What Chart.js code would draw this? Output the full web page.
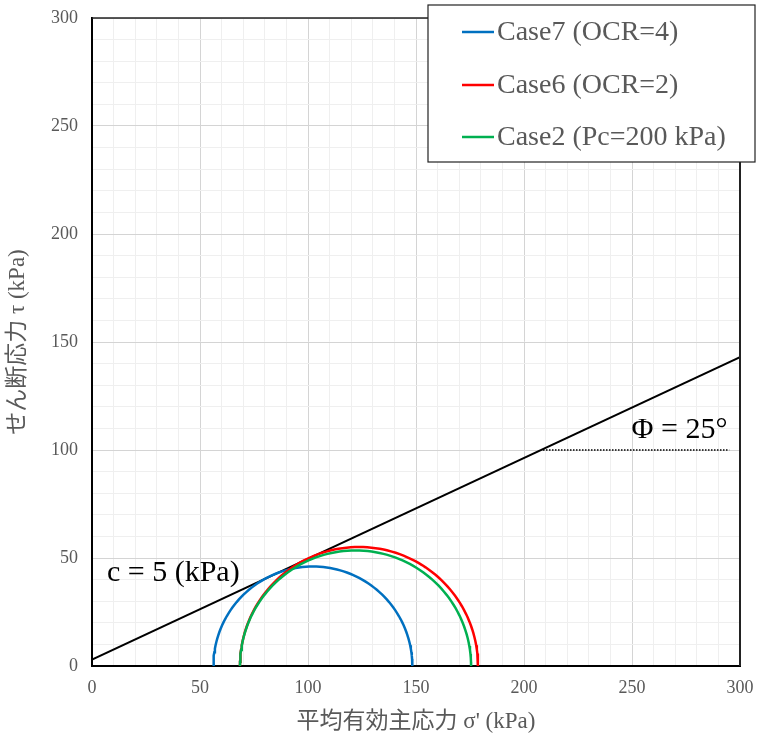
<!DOCTYPE html>
<html>
<head>
<meta charset="utf-8">
<script src="https://cdn.jsdelivr.net/npm/chart.js@4"></script>
<style>
  body { margin: 0; background: #fff; }
  #wrap { width: 757px; height: 740px; }
</style>
</head>
<body>
<div id="wrap"><canvas id="chart"></canvas></div>
<script>
// Mohr circles (kPa)
const caseNames = ['Case7 (OCR=4)', 'Case6 (OCR=2)', 'Case2 (Pc=200 kPa)'];
const sigma3 = [56.2, 68.5, 68.5];
const sigma1 = [148.3, 178.7, 175.5];
const caseColors = ['#0070C0', '#FF0000', '#00B050'];

// failure envelope and the dotted reference line
const envX = [0, 300];
const envY = [3, 143];
const refX = [208.8, 295];
const refY = [100, 100];

const serif = '"Liberation Serif", "Times New Roman", serif';
const jpFont = '"Liberation Serif", "Noto Sans CJK JP", serif';
const gray = '#595959';

function mohr(s3, s1) {
  const c = (s1 + s3) / 2, r = (s1 - s3) / 2;
  const pts = [];
  for (let a = 180; a >= 0; a -= 2) {
    const t = a * Math.PI / 180;
    pts.push({ x: c + r * Math.cos(t), y: r * Math.sin(t) });
  }
  return pts;
}

const datasets = [];
// draw order: green, red, blue on top like the reference
[2, 1, 0].forEach(i => {
  datasets.push({
    label: caseNames[i],
    data: mohr(sigma3[i], sigma1[i]),
    borderColor: caseColors[i],
    borderWidth: 2.5,
    showLine: true,
    pointRadius: 0,
    tension: 0
  });
});
datasets.push({
  label: 'envelope',
  data: envX.map((x, i) => ({ x: x, y: envY[i] })),
  borderColor: '#000',
  borderWidth: 2,
  showLine: true,
  pointRadius: 0
});
datasets.push({
  label: 'ref',
  data: refX.map((x, i) => ({ x: x, y: refY[i] })),
  borderColor: '#000',
  borderWidth: 1.5,
  borderDash: [1.5, 1.5],
  showLine: true,
  pointRadius: 0
});

const gridColor = ctx => (ctx.tick && ctx.tick.value % 50 === 0) ? '#d4d4d4' : '#efefef';

const extras = {
  id: 'extras',
  afterDraw(chart) {
    const ctx = chart.ctx;
    const a = chart.chartArea;
    const xs = chart.scales.x, ys = chart.scales.y;
    ctx.save();
    // top and right frame
    ctx.strokeStyle = '#222';
    ctx.lineWidth = 1.5;
    ctx.beginPath();
    ctx.moveTo(a.left, a.top);
    ctx.lineTo(a.right, a.top);
    ctx.stroke();
    ctx.lineWidth = 2;
    ctx.beginPath();
    ctx.moveTo(a.right, a.top);
    ctx.lineTo(a.right, a.bottom);
    ctx.stroke();

    // annotations
    ctx.fillStyle = '#000';
    ctx.textBaseline = 'alphabetic';
    ctx.textAlign = 'left';
    ctx.font = '30px ' + serif;
    ctx.fillText('c = 5 (kPa)', xs.getPixelForValue(6.9), ys.getPixelForValue(39.5));
    ctx.fillText('Φ = 25°', xs.getPixelForValue(249.8), ys.getPixelForValue(105.7));

    // legend box
    const bx = 428, by = 5, bw = 327, bh = 157;
    ctx.fillStyle = '#fff';
    ctx.fillRect(bx, by, bw, bh);
    ctx.strokeStyle = '#222';
    ctx.lineWidth = 1.2;
    ctx.strokeRect(bx, by, bw, bh);
    const rows = [32, 85, 137];
    ctx.font = '28px ' + serif;
    ctx.textBaseline = 'middle';
    caseNames.forEach((n, i) => {
      ctx.strokeStyle = caseColors[i];
      ctx.lineWidth = 2.5;
      ctx.beginPath();
      ctx.moveTo(462, rows[i]);
      ctx.lineTo(494, rows[i]);
      ctx.stroke();
      ctx.fillStyle = gray;
      ctx.fillText(n, 497, rows[i] + 1);
    });
    ctx.restore();
  }
};

new Chart(document.getElementById('chart'), {
  type: 'scatter',
  data: { datasets: datasets },
  options: {
    responsive: true,
    maintainAspectRatio: false,
    animation: false,
    layout: { padding: { top: 18, right: 17, left: 0, bottom: 0 } },
    plugins: { legend: { display: false }, tooltip: { enabled: false } },
    scales: {
      x: {
        type: 'linear',
        min: 0, max: 300,
        afterFit: s => { s.height = 74; s.paddingLeft = 0; s.paddingRight = 0; },
        ticks: {
          stepSize: 10, autoSkip: false, maxRotation: 0, padding: 11,
          color: gray, font: { family: serif, size: 18 },
          callback: v => (v % 50 === 0 ? v : '')
        },
        grid: { color: gridColor, drawTicks: false, lineWidth: 1 },
        border: { color: '#000', width: 2 },
        title: {
          display: true, text: "平均有効主応力 σ' (kPa)",
          color: gray, font: { family: jpFont, size: 23 }, padding: { top: 2 }
        }
      },
      y: {
        type: 'linear',
        min: 0, max: 300,
        afterFit: s => { s.width = 92; s.paddingTop = 0; s.paddingBottom = 0; },
        ticks: {
          stepSize: 10, autoSkip: false, padding: 14,
          color: gray, font: { family: serif, size: 18 },
          callback: v => (v % 50 === 0 ? v : '')
        },
        grid: { color: gridColor, drawTicks: false, lineWidth: 1 },
        border: { color: '#000', width: 2 },
        title: {
          display: true, text: 'せん断応力 τ (kPa)',
          color: gray, font: { family: jpFont, size: 23 }, padding: { bottom: 2 }
        }
      }
    }
  },
  plugins: [extras]
});
</script>
</body>
</html>
